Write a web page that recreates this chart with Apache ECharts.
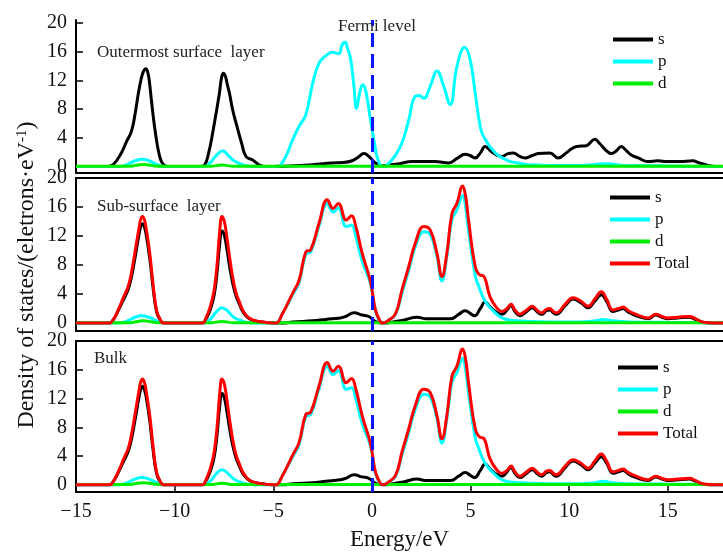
<!DOCTYPE html>
<html>
<head>
<meta charset="utf-8">
<script src="https://cdn.jsdelivr.net/npm/echarts@6/dist/echarts.min.js"></script>
<style>
html, body { margin: 0; padding: 0; background: #fff; }
#chart { width: 723px; height: 552px; }
</style>
</head>
<body>
<div id="chart"></div>
<script>
// tick labels
const energyTicks = [-15, -10, -5, 0, 5, 10, 15]
const dosTicks = [0, 4, 8, 12, 16, 20]

// outermost surface layer: [energy eV, DOS]
const surfS = [[-15,0],[-13.4,0],[-13.1,0.3],[-12.7,1.9],[-12.45,3.4],[-12.19,4.9],[-12.0,7.4],[-11.85,10.0],[-11.68,12.4],[-11.57,13.3],[-11.46,13.6],[-11.36,13.1],[-11.27,11.6],[-11.18,9.3],[-11.0,5.2],[-10.76,1.4],[-10.55,0.2],[-10.3,0],
  [-8.7,0],[-8.48,0.2],[-8.25,2.2],[-8.07,4.7],[-7.85,8.2],[-7.73,10.2],[-7.62,12.4],[-7.53,13.0],[-7.43,12.6],[-7.32,11.3],[-7.22,10.2],[-7.05,7.8],[-6.88,6.0],[-6.6,3.2],[-6.38,1.4],[-6.04,0.9],[-5.7,0.2],[-5.4,0],
  [-4.5,0.05],[-3.2,0.2],[-2.5,0.4],[-2.0,0.5],[-1.5,0.55],[-1.0,0.8],[-0.7,1.3],[-0.4,1.8],[-0.15,1.4],[0.18,0.5],[0.5,0.1],[0.85,0.2],[1.4,0.4],[2.03,0.7],[2.6,0.7],[3.2,0.7],[3.9,0.5],[4.3,1.1],[4.73,1.7],[5.0,1.5],[5.24,1.2],[5.5,1.9],[5.74,2.8],[6.1,2.0],[6.58,1.4],[6.9,1.8],[7.17,1.9],[7.5,1.4],[7.76,1.2],[8.1,1.5],[8.43,1.8],[9.02,1.9],[9.44,1.2],[9.9,2.0],[10.37,2.8],[10.87,2.9],[11.3,3.8],[11.55,3.2],[11.85,2.3],[12.14,1.8],[12.4,2.2],[12.64,2.8],[12.9,2.2],[13.15,1.6],[13.5,1.2],[13.99,0.7],[14.5,0.8],[15.0,0.7],[15.6,0.7],[16.26,0.8],[16.6,0.5],[17.0,0.2],[17.4,0],[17.8,0]]
const surfP = [[-15,0],[-12.8,0],[-12.4,0.3],[-12.0,0.8],[-11.63,1.0],[-11.3,0.8],[-10.9,0.3],[-10.5,0],
  [-8.5,0],[-8.2,0.5],[-7.9,1.5],[-7.56,2.2],[-7.3,1.6],[-7.0,0.8],[-6.6,0.3],[-6.2,0.05],[-5,0],
  [-4.75,0],[-4.6,0.3],[-4.36,1.4],[-4.02,3.7],[-3.69,5.6],[-3.35,7.2],[-3.0,11.6],[-2.68,14.4],[-2.34,15.4],[-2.0,15.9],[-1.67,15.7],[-1.55,16.6],[-1.45,17.2],[-1.35,17.3],[-1.25,16.6],[-1.08,15.0],[-0.91,11.2],[-0.78,8.1],[-0.6,10.5],[-0.46,11.4],[-0.3,10.4],[-0.07,6.5],[0.1,3.7],[0.35,0.6],[0.6,0],
  [0.77,0.2],[1.2,1.6],[1.53,3.3],[1.87,6.5],[2.2,9.8],[2.4,9.9],[2.63,9.5],[2.96,11.2],[3.3,13.3],[3.64,11.2],[3.97,8.6],[4.31,13.9],[4.7,16.6],[4.98,14.9],[5.24,10.2],[5.49,5.6],[5.66,4.2],[6.25,1.9],[6.92,0.8],[7.4,0.5],[7.8,0.3],[8.5,0.2],[9.5,0.15],[10.5,0.15],[11.3,0.3],[11.8,0.4],[12.3,0.3],[13,0.1],[14,0.1],[16,0.05],[17.8,0]]
const surfD = [[-15,0.05],[-12.3,0.05],[-11.6,0.3],[-10.8,0.05],[-8.2,0.05],[-7.6,0.2],[-7.0,0.05],[17.8,0.05]]

// sub-surface layer
const subS = [[-15,0],[-13.3,0],[-13.1,0.5],[-12.86,1.7],[-12.6,3.2],[-12.36,4.6],[-12.2,6.2],[-12.02,8.8],[-11.8,12.3],[-11.72,13.3],[-11.63,13.7],[-11.54,13.3],[-11.45,12.3],[-11.26,8.9],[-11.1,5.0],[-10.92,1.6],[-10.76,0.55],[-10.55,0],
  [-8.6,0],[-8.4,0.6],[-8.2,1.8],[-8.0,3.8],[-7.85,6.9],[-7.72,10.8],[-7.6,12.7],[-7.48,12.1],[-7.35,10.2],[-7.2,7.6],[-7.05,5.4],[-6.88,3.7],[-6.7,2.5],[-6.55,1.6],[-6.21,0.6],[-5.7,0.2],[-5.0,0],
  [-4.5,0],[-4.0,0.15],[-3.0,0.3],[-2.34,0.5],[-1.6,0.7],[-1.33,0.9],[-0.9,1.4],[-0.5,1.1],[-0.15,0.9],[0.18,0.2],[0.6,0],
  [1.0,0.1],[1.6,0.4],[2.3,0.8],[2.7,0.6],[3.5,0.6],[4.0,0.6],[4.4,1.2],[4.73,1.7],[5.0,1.3],[5.2,1.0],[5.5,2.0],[5.74,2.9],[6.0,2.2],[6.3,1.5],[6.6,1.2],[6.85,1.8],[7.05,2.4],[7.25,1.6],[7.5,1.0],[7.8,1.5],[8.13,2.1],[8.4,1.5],[8.6,1.2],[8.85,1.7],[9.02,1.8],[9.2,1.4],[9.35,1.2],[9.8,2.4],[10.2,3.3],[10.6,2.8],[10.96,2.1],[11.3,3.0],[11.63,3.9],[11.9,3.0],[12.22,1.6],[12.5,1.8],[12.73,2.0],[13.0,1.5],[13.4,1.0],[14.0,0.6],[14.4,1.1],[14.7,0.8],[15.0,0.6],[15.5,0.7],[16.1,0.8],[16.4,0.5],[16.7,0.15],[17.1,0],[17.8,0]]
const subP = [[-15,0],[-12.8,0],[-12.4,0.3],[-12.0,0.8],[-11.7,1.0],[-11.3,0.8],[-10.9,0.3],[-10.5,0],
  [-8.5,0],[-8.2,0.5],[-7.9,1.5],[-7.6,2.1],[-7.3,1.6],[-7.0,0.8],[-6.6,0.3],[-6.2,0.05],[-5,0],
  [-4.86,0],[-4.53,1.3],[-4.02,3.9],[-3.69,5.6],[-3.35,9.5],[-3.1,9.8],[-2.68,13.4],[-2.26,16.5],[-1.97,15.3],[-1.7,15.9],[-1.3,13.3],[-1.03,13.5],[-0.83,12.1],[-0.49,8.5],[-0.07,5.4],[0.18,1.6],[0.43,0.15],[0.6,0],
  [0.8,0.3],[1.2,1.2],[1.53,4.2],[1.87,7.3],[2.2,10.5],[2.63,12.6],[2.96,12.2],[3.3,9.2],[3.55,5.8],[3.8,9.2],[4.06,14.3],[4.31,15.6],[4.6,17.6],[4.75,16.0],[4.9,12.8],[5.24,6.5],[5.4,5.2],[5.66,3.4],[5.9,2.4],[6.25,1.4],[6.6,0.7],[7.0,0.4],[7.4,0.3],[8.0,0.2],[9,0.15],[10.5,0.15],[11.3,0.3],[11.7,0.5],[12.2,0.3],[13,0.15],[15,0.1],[17,0.05],[17.8,0]]
const subD = [[-15,0.05],[-12.3,0.05],[-11.6,0.3],[-10.8,0.05],[-8.2,0.05],[-7.6,0.2],[-7.0,0.05],[17.8,0.05]]
const subTotal = [[-15,0],[-13.3,0],[-13.1,0.5],[-12.86,1.8],[-12.6,3.5],[-12.36,5.0],[-12.2,6.8],[-12.02,9.6],[-11.8,13.2],[-11.72,14.3],[-11.63,14.7],[-11.54,14.3],[-11.45,13.2],[-11.26,9.6],[-11.1,5.5],[-10.92,1.8],[-10.76,0.65],[-10.55,0],
  [-8.6,0],[-8.4,0.8],[-8.2,2.2],[-8.0,4.5],[-7.85,8.0],[-7.72,12.5],[-7.6,14.7],[-7.48,14.0],[-7.35,11.8],[-7.2,8.8],[-7.05,6.2],[-6.88,4.1],[-6.7,2.8],[-6.55,1.8],[-6.21,0.65],[-5.7,0.2],[-5.0,0],
  [-4.86,0],[-4.53,1.3],[-4.02,4.1],[-3.69,5.9],[-3.35,9.8],[-3.1,10.1],[-2.68,13.75],[-2.26,17.0],[-1.97,15.8],[-1.7,16.5],[-1.3,14.2],[-1.03,14.8],[-0.83,13.5],[-0.49,9.6],[-0.07,5.7],[0.18,1.8],[0.43,0.2],[0.55,0],
  [0.8,0.3],[1.2,1.3],[1.53,4.6],[1.87,7.8],[2.2,11.0],[2.63,13.3],[2.96,12.8],[3.3,9.6],[3.55,6.4],[3.8,9.6],[4.06,15.1],[4.31,16.5],[4.6,18.9],[4.75,17.5],[4.9,14.2],[5.24,7.8],[5.49,6.6],[5.66,6.5],[5.99,3.6],[6.3,2.2],[6.58,1.6],[6.85,2.0],[7.05,2.6],[7.25,1.8],[7.5,1.2],[7.8,1.7],[8.13,2.3],[8.4,1.7],[8.6,1.4],[8.85,1.9],[9.02,2.0],[9.2,1.6],[9.35,1.4],[9.8,2.6],[10.2,3.5],[10.6,3.0],[10.96,2.3],[11.3,3.3],[11.63,4.3],[11.9,3.3],[12.22,1.8],[12.5,2.0],[12.73,2.2],[13.0,1.7],[13.4,1.2],[14.0,0.7],[14.4,1.2],[14.7,0.9],[15.0,0.7],[15.5,0.8],[16.1,0.9],[16.4,0.6],[16.7,0.2],[17.1,0.05],[17.8,0]]

// bulk looks the same as the sub-surface layer in the figure
const bulkS = subS
const bulkP = subP
const bulkD = subD
const bulkTotal = subTotal

const font = 'Liberation Serif'
const colors = { s: '#000000', p: '#00ffff', d: '#00ee00', Total: '#ff0000' }

const panels = [
  { top: 20, height: 153, min: -0.9, max: 20.4, series: { s: surfS, p: surfP, d: surfD } },
  { top: 178, height: 153, min: -1.1, max: 20, series: { s: subS, p: subP, d: subD, Total: subTotal } },
  { top: 341, height: 152, min: -1, max: 20, series: { s: bulkS, p: bulkP, d: bulkD, Total: bulkTotal } }
]

const chart = echarts.init(document.getElementById('chart'))

const minus = v => String(v).replace('-', '\u2212')

const grid = panels.map(p => ({ left: 76, right: 0, top: p.top, height: p.height }))

const xAxis = panels.map((p, i) => ({
  type: 'value', gridIndex: i, min: -15, max: 17.8,
  axisLine: { show: true, onZero: false, lineStyle: { color: '#000', width: 2 } },
  axisTick: { show: i === 2, inside: true, length: 7, lineStyle: { color: '#000', width: 1.5 }, customValues: energyTicks },
  axisLabel: { show: i === 2, customValues: energyTicks, formatter: minus, fontFamily: font, fontSize: 20, color: '#111', margin: 10 },
  splitLine: { show: false },
  name: i === 2 ? 'Energy/eV' : '',
  nameLocation: 'middle', nameGap: 36,
  nameTextStyle: { fontFamily: font, fontSize: 23, color: '#111' }
}))
// top frame lines of the lower two panels
for (const i of [1, 2]) {
  xAxis.push({
    type: 'value', gridIndex: i, position: 'top', min: -15, max: 17.8,
    axisLine: { show: true, onZero: false, lineStyle: { color: '#000', width: 2 } },
    axisTick: { show: false }, axisLabel: { show: false }, splitLine: { show: false }
  })
}

const yAxis = panels.map((p, i) => ({
  type: 'value', gridIndex: i, min: p.min, max: p.max,
  axisLine: { show: true, onZero: false, lineStyle: { color: '#000', width: 2 } },
  axisTick: { show: true, inside: true, length: 7, lineStyle: { color: '#000', width: 1.5 }, customValues: dosTicks },
  axisLabel: { customValues: dosTicks, fontFamily: font, fontSize: 20, color: '#111', margin: 9 },
  splitLine: { show: false }
}))

const series = []
panels.forEach((p, i) => {
  const names = Object.keys(p.series)
  names.forEach((name, k) => {
    const s = {
      name, type: 'line', xAxisIndex: i, yAxisIndex: i,
      data: p.series[name],
      showSymbol: false, smooth: 0.45,
      lineStyle: { color: colors[name], width: 3 },
      itemStyle: { color: colors[name] },
      animation: false
    }
    if (k === names.length - 1) {
      // Fermi level
      s.markLine = {
        silent: true, symbol: 'none', label: { show: false },
        lineStyle: { color: '#0a14ff', width: 3, type: [14, 7] },
        data: [{ xAxis: 0 }]
      }
    }
    series.push(s)
  })
})

const legendBase = {
  orient: 'vertical', icon: 'rect', itemWidth: 40, itemHeight: 4, itemGap: 5,
  textStyle: { fontFamily: font, fontSize: 17, color: '#111' }
}

const option = {
  animation: false,
  grid, xAxis, yAxis, series,
  title: [
    { text: 'Fermi level', left: 338, top: 18, padding: 0, textStyle: { fontFamily: font, fontSize: 17, fontWeight: 'normal', color: '#222' } },
    { text: 'Outermost surface  layer', left: 97, top: 44, padding: 0, textStyle: { fontFamily: font, fontSize: 17, fontWeight: 'normal', color: '#222' } },
    { text: 'Sub-surface  layer', left: 97, top: 198, padding: 0, textStyle: { fontFamily: font, fontSize: 17, fontWeight: 'normal', color: '#222' } },
    { text: 'Bulk', left: 94, top: 350, padding: 0, textStyle: { fontFamily: font, fontSize: 17, fontWeight: 'normal', color: '#222' } }
  ],
  legend: [
    Object.assign({}, legendBase, { data: ['s', 'p', 'd'], left: 613, top: 31, padding: 0 }),
    Object.assign({}, legendBase, { data: ['s', 'p', 'd', 'Total'], left: 610, top: 189, padding: 0 }),
    Object.assign({}, legendBase, { data: ['s', 'p', 'd', 'Total'], left: 618, top: 359, padding: 0 })
  ],
  graphic: [{
    type: 'text', x: 27, y: 275, rotation: Math.PI / 2,
    style: {
      text: '{t|Density of states/(eletrons\u00b7eV}{u|-1}{t|)}',
      align: 'center', verticalAlign: 'middle',
      rich: {
        t: { fontFamily: font, fontSize: 24, fill: '#111' },
        u: { fontFamily: font, fontSize: 15, fill: '#111', verticalAlign: 'top' }
      }
    }
  }]
}

chart.setOption(option)
window.addEventListener('resize', () => chart.resize())
</script>
</body>
</html>
